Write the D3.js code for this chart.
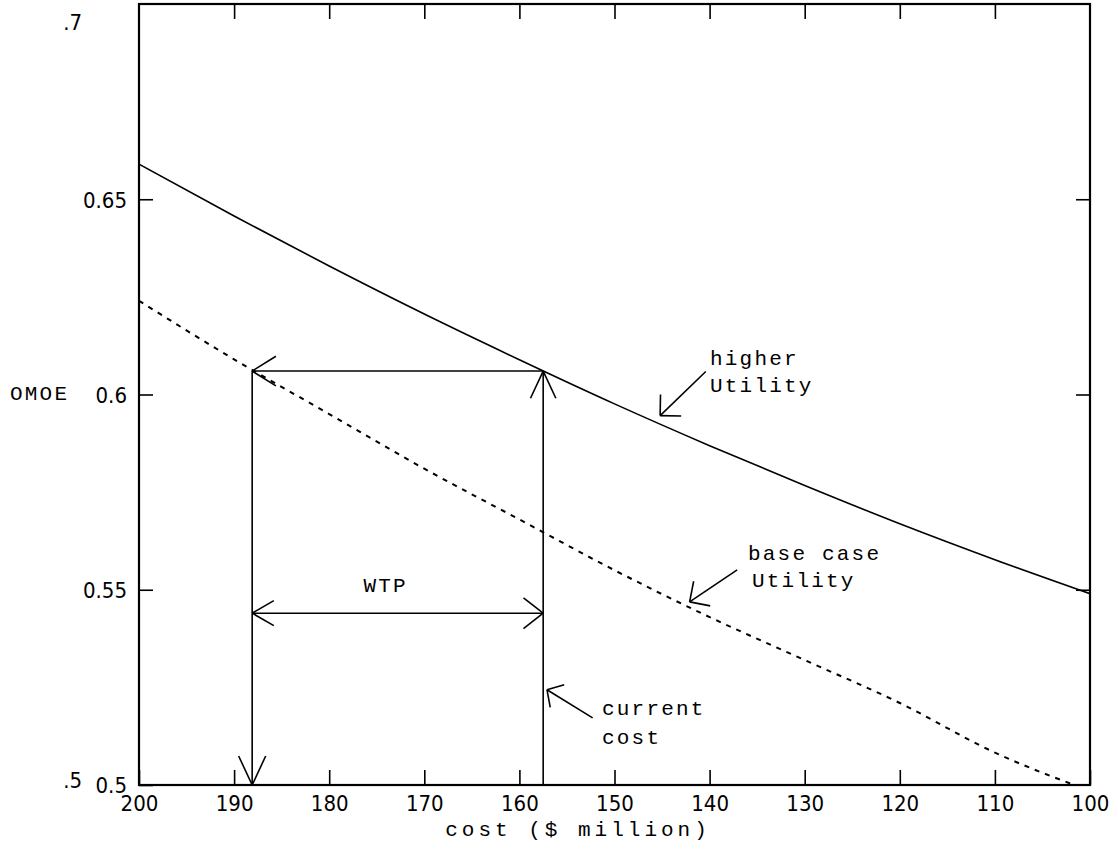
<!DOCTYPE html>
<html>
<head>
<meta charset="utf-8">
<script src="https://cdn.jsdelivr.net/npm/d3@7"></script>
<style>
  body { margin: 0; background: #fff; }
  .tick text { font-family: "Liberation Sans Narrow", "DejaVu Sans Condensed", sans-serif; font-size: 22px; fill: #000; }
  .mono { font-family: "Liberation Mono", "Courier New", monospace; font-size: 21px; letter-spacing: 2.2px; fill: #000; }
</style>
</head>
<body>
<script>
const width = 1118;
const height = 854;

// data
const costs = [200, 190, 180, 170, 160, 150, 140, 130, 120, 110, 100];
const higherUtility = [0.659, 0.6457, 0.6329, 0.6206, 0.6089, 0.5976, 0.5869, 0.5767, 0.5669, 0.5577, 0.549];
const baseUtility = [0.624, 0.609, 0.595, 0.581, 0.568, 0.555, 0.543, 0.532, 0.521, 0.5083, 0.4985];

const xTickValues = [200, 190, 180, 170, 160, 150, 140, 130, 120, 110, 100];
const yTickValues = [0.5, 0.55, 0.6, 0.65];

// WTP construction
const wtpCosts = [188.1, 157.5]; // left, right (current cost)
const wtpOmoe = 0.606;           // top horizontal line
const wtpArrowOmoe = 0.544;      // double arrow

let margin = { top: 4, right: 28, bottom: 69, left: 139 };

let svg = d3
  .select("body")
  .append("svg")
  .attr("width", width)
  .attr("height", height);

let x = d3.scaleLinear().domain([200, 100]).range([margin.left, width - margin.right]);
let y = d3.scaleLinear().domain([0.5, 0.7]).range([height - margin.bottom, margin.top]);

svg.append("clipPath").attr("id", "plot")
  .append("rect")
  .attr("x", margin.left).attr("y", margin.top)
  .attr("width", x(100) - x(200)).attr("height", y(0.5) - y(0.7));

// axes, ticks pointing inward
let bottomAxis = svg.append("g").attr("transform", `translate(0, ${y(0.5)})`)
  .call(d3.axisBottom(x).tickValues(xTickValues).tickSizeInner(-15).tickSizeOuter(0).tickPadding(12).tickFormat(d3.format("d")));
let topAxis = svg.append("g").attr("transform", `translate(0, ${y(0.7)})`)
  .call(d3.axisTop(x).tickValues(xTickValues.slice(1, -1)).tickSizeInner(-15).tickSizeOuter(0).tickFormat(""));
let leftAxis = svg.append("g").attr("transform", `translate(${x(200)}, 0)`)
  .call(d3.axisLeft(y).tickValues(yTickValues).tickSizeInner(-14).tickSizeOuter(0).tickPadding(12).tickFormat((d) => String(d)));
let rightAxis = svg.append("g").attr("transform", `translate(${x(100)}, 0)`)
  .call(d3.axisRight(y).tickValues(yTickValues.slice(1)).tickSizeInner(-14).tickSizeOuter(0).tickFormat(""));

[bottomAxis, topAxis, leftAxis, rightAxis].forEach((g) => {
  g.select(".domain").remove();
  g.selectAll(".tick line").attr("stroke", "#000").attr("stroke-width", 1.6);
});
bottomAxis.selectAll(".tick text").attr("dy", "0.62em");
leftAxis.selectAll(".tick text").attr("dy", "0.36em");

// frame
svg.append("rect")
  .attr("x", x(200)).attr("y", y(0.7))
  .attr("width", x(100) - x(200)).attr("height", y(0.5) - y(0.7))
  .attr("fill", "none").attr("stroke", "#000").attr("stroke-width", 2.2);

// stray labels
svg.append("text").attr("x", 82).attr("y", 30).attr("text-anchor", "end")
  .style("font-family", "'Liberation Sans Narrow', 'DejaVu Sans Condensed', sans-serif").style("font-size", "22px").text(".7");
svg.append("text").attr("x", 82).attr("y", 788).attr("text-anchor", "end")
  .style("font-family", "'Liberation Sans Narrow', 'DejaVu Sans Condensed', sans-serif").style("font-size", "22px").text(".5");

svg.append("text").attr("class", "mono").attr("x", 10).attr("y", 400).text("OMOE");
svg.append("text").attr("class", "mono").attr("x", 578).attr("y", 836).attr("text-anchor", "middle")
  .style("letter-spacing", "4px").text("cost ($ million)");

// curves
let line = (vals) => d3.line()
  .x((d, i) => x(costs[i]))
  .y((d) => y(d))
  .curve(d3.curveMonotoneX)(vals);

svg.append("path")
  .attr("d", line(higherUtility))
  .attr("clip-path", "url(#plot)")
  .attr("fill", "none").attr("stroke", "#000").attr("stroke-width", 1.6);

svg.append("path")
  .attr("d", line(baseUtility))
  .attr("clip-path", "url(#plot)")
  .attr("fill", "none").attr("stroke", "#000").attr("stroke-width", 2)
  .attr("stroke-dasharray", "5,6");

// arrow helpers
function seg(x1, y1, x2, y2, w) {
  svg.append("line")
    .attr("x1", x1).attr("y1", y1).attr("x2", x2).attr("y2", y2)
    .attr("stroke", "#000").attr("stroke-width", w || 1.6);
}
// open arrow head at (tx, ty), shaft coming from (fx, fy)
function head(tx, ty, fx, fy, len, spread) {
  let a = Math.atan2(fy - ty, fx - tx);
  let s = (spread * Math.PI) / 180;
  seg(tx, ty, tx + len * Math.cos(a + s), ty + len * Math.sin(a + s));
  seg(tx, ty, tx + len * Math.cos(a - s), ty + len * Math.sin(a - s));
}
function arrow(fx, fy, tx, ty, len, spread) {
  seg(fx, fy, tx, ty);
  head(tx, ty, fx, fy, len, spread);
}

let xl = x(wtpCosts[0]), xr = x(wtpCosts[1]);
// right vertical (current cost) up to the higher curve
arrow(xr, y(0.5), xr, y(wtpOmoe), 30, 25);
// top horizontal going left
arrow(xr, y(wtpOmoe), xl, y(wtpOmoe), 28, 32);
// left vertical down to the axis
arrow(xl, y(wtpOmoe), xl, y(0.5), 32, 25);
// WTP double arrow
seg(xl, y(wtpArrowOmoe), xr, y(wtpArrowOmoe));
head(xl, y(wtpArrowOmoe), xr, y(wtpArrowOmoe), 25, 30);
head(xr, y(wtpArrowOmoe), xl, y(wtpArrowOmoe), 25, 38);
svg.append("text").attr("class", "mono").attr("x", (xl + xr) / 2 - 12).attr("y", 592)
  .attr("text-anchor", "middle").text("WTP");

// pointer labels
arrow(x(140.4), y(0.6059), x(145.2), y(0.5946), 21, 45);
svg.append("text").attr("class", "mono").attr("x", 710).attr("y", 365).text("higher");
svg.append("text").attr("class", "mono").attr("x", 710).attr("y", 392).text("Utility");

arrow(x(137.1), y(0.5551), x(142.1), y(0.5469), 21, 45);
svg.append("text").attr("class", "mono").attr("x", 748).attr("y", 560).text("base case");
svg.append("text").attr("class", "mono").attr("x", 752).attr("y", 587).text("Utility");

arrow(x(152.3), y(0.5172), x(157.1), y(0.5244), 18, 48);
svg.append("text").attr("class", "mono").attr("x", 602).attr("y", 715).text("current");
svg.append("text").attr("class", "mono").attr("x", 602).attr("y", 744).text("cost");
</script>
</body>
</html>
